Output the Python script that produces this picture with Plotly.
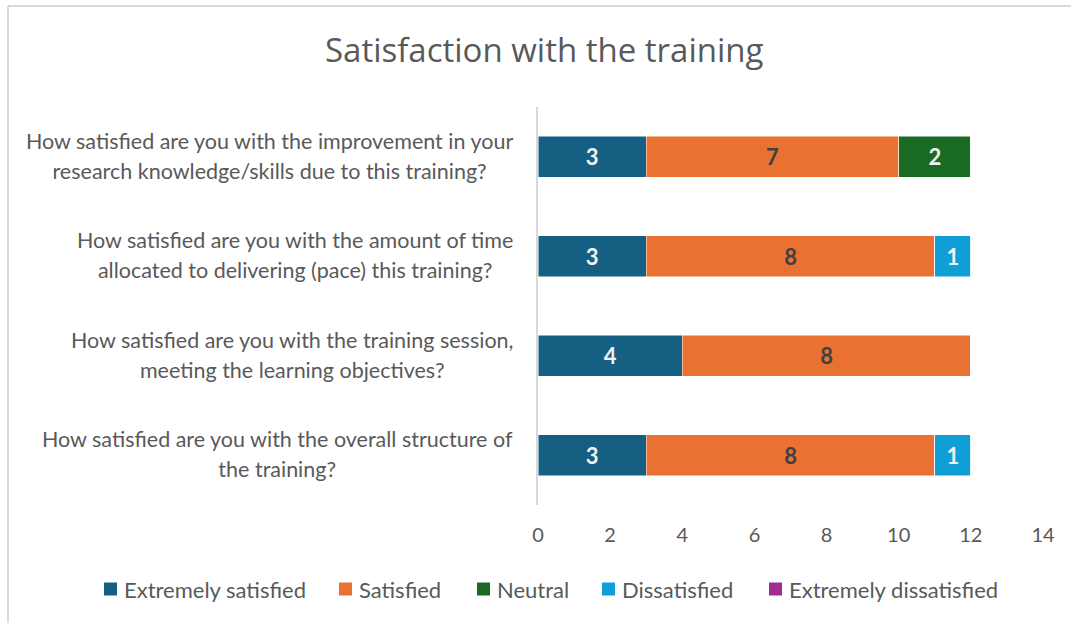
import plotly.graph_objects as go

title_text = "Satisfaction with the training"
categories = [
    "How satisfied are you with the improvement in your<br>research knowledge/skills due to this training?",
    "How satisfied are you with the amount of time<br>allocated to delivering (pace) this training?",
    "How satisfied are you with the training session,<br>meeting the learning objectives?",
    "How satisfied are you with the overall structure of<br>the training?",
]
series_names = ["Extremely satisfied", "Satisfied", "Neutral", "Dissatisfied", "Extremely dissatisfied"]
extremely_satisfied = [3, 3, 4, 3]
satisfied = [7, 8, 8, 8]
neutral = [2, 0, 0, 0]
dissatisfied = [0, 1, 0, 1]
extremely_dissatisfied = [0, 0, 0, 0]
x_ticks = [0, 2, 4, 6, 8, 10, 12, 14]

series_values = [extremely_satisfied, satisfied, neutral, dissatisfied, extremely_dissatisfied]
colors = ["#156082", "#E97132", "#196B24", "#0F9ED5", "#A02B93"]
label_colors = ["#F2F2F2", "#404040", "#F2F2F2", "#F2F2F2", "#F2F2F2"]

FONT = "Lato"
GRAY = "#595959"
W, H = 1071, 623
L, R, T, B = 538, 28, 107, 118
PW, PH = W - L - R, H - T - B

fig = go.Figure()
for name, vals, col, lc in zip(series_names, series_values, colors, label_colors):
    fig.add_trace(go.Bar(
        y=categories, x=vals, name=name, orientation="h",
        marker=dict(color=col, line=dict(color="white", width=0.5)),
        text=[str(v) if v else "" for v in vals],
        textposition="inside", insidetextanchor="middle",
        textfont=dict(family=FONT, size=22, color=lc, weight="bold"),
        width=0.41, hoverinfo="x+name", showlegend=False,
    ))

for c in categories:
    span_open = '<span style="font-size:21.5px">'
    fig.add_annotation(
        xref="paper", yref="y", x=0, y=c, xanchor="right", yanchor="middle",
        xshift=-23, yshift=1, align="center", showarrow=False,
        text=span_open + c.replace("<br>", "</span><br>" + span_open) + "</span>",
        font=dict(family=FONT, size=23, color=GRAY),
    )

# title
fig.add_annotation(
    xref="paper", yref="paper", x=(544 - L) / PW, y=1 + (T - 50) / PH,
    xanchor="center", yanchor="middle", showarrow=False,
    text=title_text, font=dict(family="Open Sans", size=33, color=GRAY),
)

# manual legend
legend_square_x = [104, 339, 477, 602, 769]
legend_y = 589
for name, col, sx in zip(series_names, colors, legend_square_x):
    fig.add_shape(type="rect", xref="paper", yref="paper",
                  x0=(sx - L) / PW, x1=(sx + 13 - L) / PW,
                  y0=-(legend_y + 6.5 - T - PH) / PH, y1=-(legend_y - 6.5 - T - PH) / PH,
                  fillcolor=col, line=dict(width=0))
    fig.add_annotation(xref="paper", yref="paper", x=(sx + 18 - L) / PW, y=-(legend_y - T - PH) / PH,
                       xanchor="left", yanchor="middle", showarrow=False,
                       text=name, font=dict(family=FONT, size=22, color=GRAY))

# chart border (left and top)
top_y = 1 + (T - 6) / PH
left_x = -(L - 8) / PW
fig.add_shape(type="line", xref="paper", yref="paper",
              x0=left_x, x1=(W - L) / PW + 0.01, y0=top_y, y1=top_y,
              line=dict(color="#D9D9D9", width=2))
fig.add_shape(type="line", xref="paper", yref="paper",
              x0=left_x, x1=left_x, y0=top_y, y1=-(B + 5) / PH,
              line=dict(color="#D9D9D9", width=2))

fig.update_layout(
    width=W, height=H,
    margin=dict(l=L, r=R, t=T, b=B),
    barmode="stack",
    paper_bgcolor="white", plot_bgcolor="white",
    font=dict(family=FONT, color=GRAY),
    xaxis=dict(range=[0, 14], tickvals=x_ticks, showgrid=False, zeroline=False,
               showline=False, ticks="", tickfont=dict(size=20, color=GRAY), ticklabelstandoff=16),
    yaxis=dict(autorange="reversed", showticklabels=False, showgrid=False, zeroline=False,
               showline=True, linecolor="#D9D9D9", linewidth=2, ticks=""),
    showlegend=False,
)

fig.write_html("out.html", config={"displayModeBar": False},
               post_script="document.body.style.margin='0px';")
